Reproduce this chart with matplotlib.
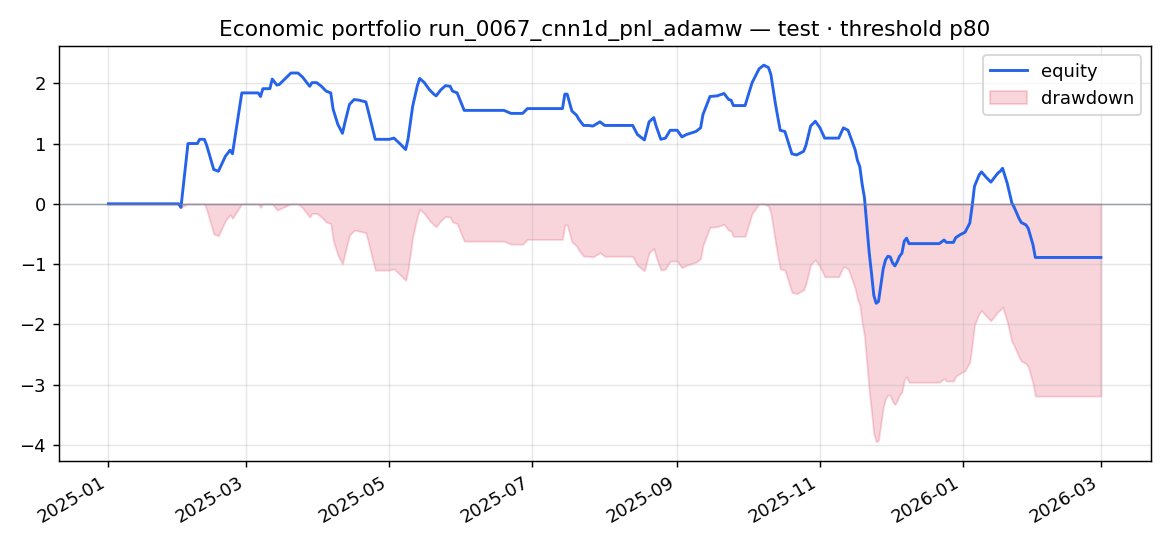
import numpy as np
import pandas as pd
import matplotlib.pyplot as plt

# equity curve (date, cumulative pnl)
dates = [
    "2025-01-01", "2025-01-31", "2025-02-01", "2025-02-04", "2025-02-08", "2025-02-09",
    "2025-02-11", "2025-02-12", "2025-02-15", "2025-02-17", "2025-02-20", "2025-02-22",
    "2025-02-23", "2025-02-27", "2025-03-06", "2025-03-07", "2025-03-08", "2025-03-11",
    "2025-03-12", "2025-03-14", "2025-03-15", "2025-03-20", "2025-03-23", "2025-03-25",
    "2025-03-28", "2025-03-29", "2025-03-31", "2025-04-02", "2025-04-04", "2025-04-06",
    "2025-04-07", "2025-04-09", "2025-04-11", "2025-04-12", "2025-04-14", "2025-04-16",
    "2025-04-18", "2025-04-21", "2025-04-22", "2025-04-25", "2025-05-01", "2025-05-03",
    "2025-05-06", "2025-05-08", "2025-05-09", "2025-05-11", "2025-05-13", "2025-05-14",
    "2025-05-16", "2025-05-18", "2025-05-20", "2025-05-21", "2025-05-23", "2025-05-25",
    "2025-05-27", "2025-05-28", "2025-05-30", "2025-06-02", "2025-06-19", "2025-06-22",
    "2025-06-27", "2025-06-29", "2025-07-14", "2025-07-15", "2025-07-16", "2025-07-18",
    "2025-07-20", "2025-07-21", "2025-07-23", "2025-07-25", "2025-07-27", "2025-07-30",
    "2025-08-01", "2025-08-13", "2025-08-15", "2025-08-18", "2025-08-20", "2025-08-22",
    "2025-08-23", "2025-08-25", "2025-08-27", "2025-08-29", "2025-09-01", "2025-09-03",
    "2025-09-05", "2025-09-09", "2025-09-11", "2025-09-12", "2025-09-14", "2025-09-15",
    "2025-09-18", "2025-09-21", "2025-09-23", "2025-09-24", "2025-09-25", "2025-09-30",
    "2025-10-03", "2025-10-06", "2025-10-08", "2025-10-10", "2025-10-11", "2025-10-13",
    "2025-10-15", "2025-10-17", "2025-10-20", "2025-10-22", "2025-10-25", "2025-10-26",
    "2025-10-28", "2025-10-30", "2025-11-01", "2025-11-03", "2025-11-09", "2025-11-11",
    "2025-11-13", "2025-11-15", "2025-11-16", "2025-11-17", "2025-11-18", "2025-11-19",
    "2025-11-20", "2025-11-21", "2025-11-22", "2025-11-23", "2025-11-24", "2025-11-25",
    "2025-11-26", "2025-11-27", "2025-11-28", "2025-11-29", "2025-11-30", "2025-12-01",
    "2025-12-02", "2025-12-03", "2025-12-04", "2025-12-05", "2025-12-06", "2025-12-07",
    "2025-12-08", "2025-12-09", "2025-12-22", "2025-12-24", "2025-12-25", "2025-12-28",
    "2025-12-29", "2025-12-31", "2026-01-02", "2026-01-04", "2026-01-05", "2026-01-06",
    "2026-01-08", "2026-01-09", "2026-01-11", "2026-01-13", "2026-01-16", "2026-01-17",
    "2026-01-18", "2026-01-20", "2026-01-22", "2026-01-23", "2026-01-25", "2026-01-26",
    "2026-01-28", "2026-01-29", "2026-01-31", "2026-02-01", "2026-03-01",
]

equity = [
    0.00, 0.00, -0.06, 1.00, 1.00, 1.07,
    1.07, 0.97, 0.57, 0.54, 0.79, 0.89,
    0.83, 1.84, 1.84, 1.78, 1.91, 1.91,
    2.07, 1.97, 1.98, 2.17, 2.17, 2.10,
    1.95, 2.01, 2.01, 1.95, 1.87, 1.84,
    1.57, 1.32, 1.17, 1.34, 1.65, 1.73,
    1.72, 1.69, 1.54, 1.07, 1.07, 1.09,
    0.98, 0.90, 1.07, 1.62, 1.96, 2.08,
    2.01, 1.90, 1.82, 1.79, 1.89, 1.96,
    1.95, 1.87, 1.84, 1.55, 1.55, 1.50,
    1.50, 1.58, 1.58, 1.82, 1.82, 1.54,
    1.47, 1.40, 1.30, 1.30, 1.29, 1.36,
    1.30, 1.30, 1.15, 1.06, 1.36, 1.43,
    1.29, 1.07, 1.09, 1.22, 1.22, 1.11,
    1.15, 1.20, 1.26, 1.48, 1.68, 1.78,
    1.79, 1.83, 1.73, 1.72, 1.63, 1.63,
    2.01, 2.24, 2.30, 2.26, 2.15, 1.65,
    1.22, 1.20, 0.83, 0.81, 0.87, 0.97,
    1.29, 1.37, 1.26, 1.09, 1.09, 1.26,
    1.22, 1.01, 0.90, 0.72, 0.62, 0.33,
    0.10, -0.35, -0.80, -1.15, -1.52, -1.65,
    -1.62, -1.35, -1.08, -0.93, -0.87, -0.88,
    -0.98, -1.03, -0.96, -0.87, -0.82, -0.62,
    -0.57, -0.66, -0.66, -0.60, -0.64, -0.64,
    -0.56, -0.51, -0.47, -0.32, -0.04, 0.29,
    0.48, 0.53, 0.44, 0.36, 0.51, 0.54,
    0.59, 0.34, 0.01, -0.06, -0.24, -0.31,
    -0.35, -0.41, -0.68, -0.89, -0.89,
]

df = pd.DataFrame({"date": pd.to_datetime(dates), "equity": equity})
df["drawdown"] = df["equity"] - df["equity"].cummax()

fig, ax = plt.subplots(figsize=(9, 4.2), dpi=130)

ax.plot(df["date"], df["equity"], color="#2563eb", lw=1.6, label="equity")
ax.fill_between(df["date"], df["drawdown"], 0, color="crimson", alpha=0.18,
                label="drawdown")
ax.axhline(0, color="slategray", lw=0.8, alpha=0.7)

ax.set_title("Economic portfolio run_0067_cnn1d_pnl_adamw — test · threshold p80")
ax.grid(alpha=0.3)
ax.legend(loc="upper right")
fig.autofmt_xdate()

plt.tight_layout()
plt.savefig("out.png")
